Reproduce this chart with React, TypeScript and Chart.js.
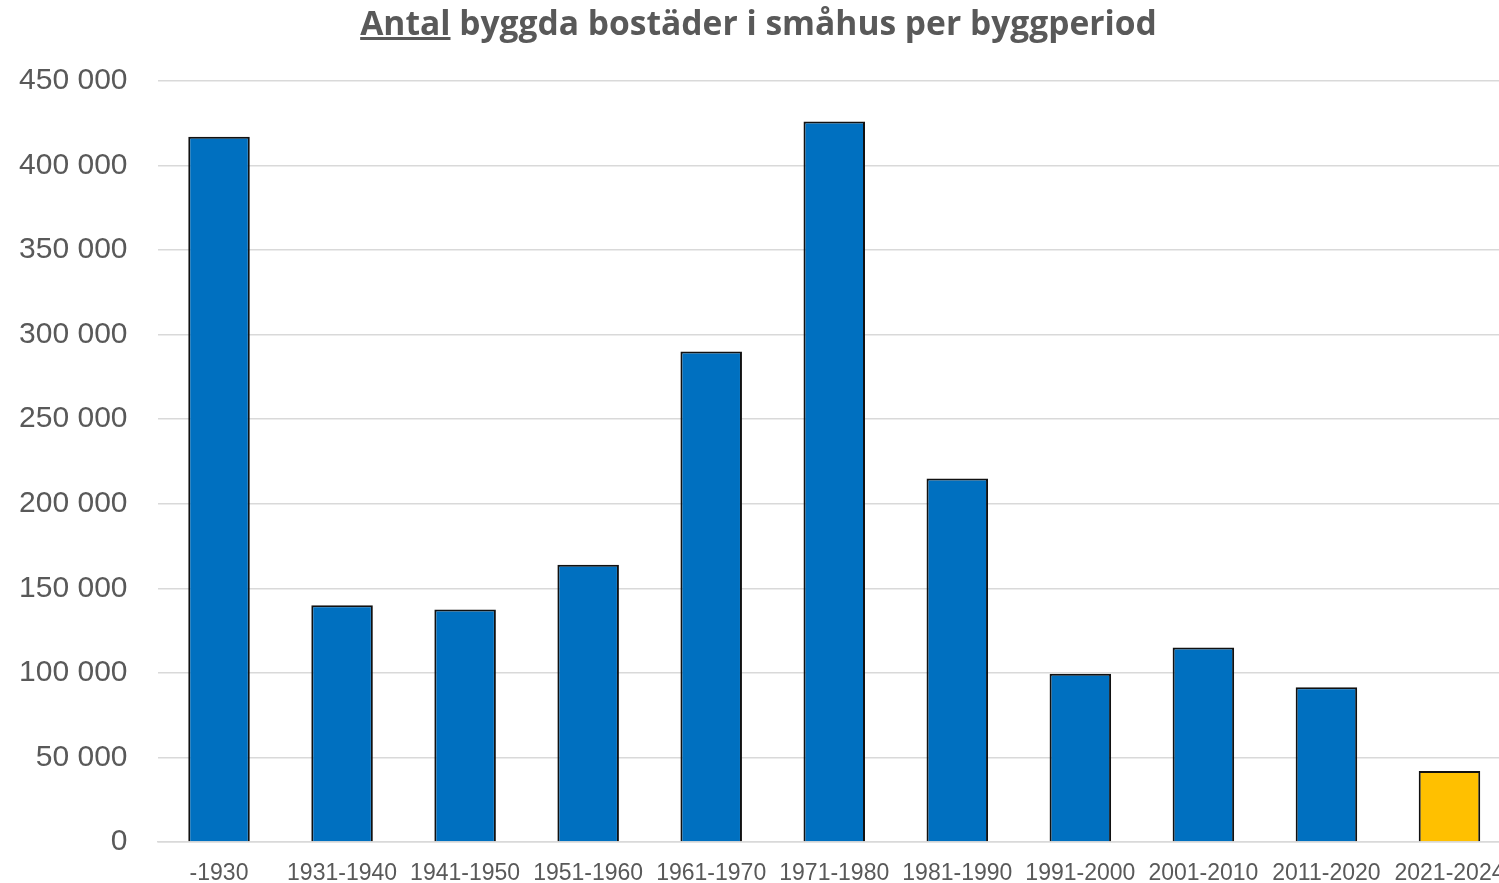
import React, { useEffect, useRef } from "react";
import { Chart, registerables } from "chart.js";

Chart.register(...registerables);

const categories = ["-1930", "1931-1940", "1941-1950", "1951-1960", "1961-1970", "1971-1980", "1981-1990", "1991-2000", "2001-2010", "2011-2020", "2021-2024"];
const values = [417000, 140000, 137500, 164000, 290000, 426000, 215000, 99500, 115000, 91500, 42000];
const barColors = ["#0070C0", "#0070C0", "#0070C0", "#0070C0", "#0070C0", "#0070C0", "#0070C0", "#0070C0", "#0070C0", "#0070C0", "#FFC000"];
const yMax = 450000;
const yStep = 50000;

function fmt(v: number): string {
  return String(Math.round(v)).replace(/\B(?=(\d{3})+(?!\d))/g, " ");
}

function noPad(s: any) {
  s.paddingLeft = 0;
  s.paddingRight = 0;
  s.paddingTop = 0;
  s.paddingBottom = 0;
}

export default function App() {
  const ref = useRef<HTMLCanvasElement | null>(null);
  useEffect(() => {
    document.body.style.margin = "0";
    document.body.style.overflow = "hidden";
    const ctx = ref.current!.getContext("2d")!;
    const chart = new Chart(ctx, {
      type: "bar",
      data: {
        labels: categories,
        datasets: [
          {
            data: values,
            backgroundColor: barColors,
            borderColor: "#111111",
            borderWidth: 2,
            categoryPercentage: 1,
            barPercentage: 0.5,
          },
        ],
      },
      options: {
        animation: false,
        responsive: false,
        layout: { padding: { top: 81, right: 0, left: 0, bottom: 0 } },
        plugins: { legend: { display: false }, tooltip: { enabled: false }, title: { display: false } },
        scales: {
          x: {
            grid: { display: false, drawTicks: false },
            border: { display: true, color: "#d9d9d9", width: 1.5 },
            ticks: { color: "#595959", font: { family: "Liberation Sans", size: 23 }, padding: 18, maxRotation: 0, autoSkip: false },
            afterFit: (s: any) => { s.height = 41; noPad(s); },
          },
          y: {
            min: 0,
            max: yMax,
            grid: { color: "#d9d9d9", lineWidth: 1.5, drawTicks: false },
            border: { display: false },
            ticks: { stepSize: yStep, color: "#595959", font: { family: "Liberation Sans", size: 30 }, padding: 30, callback: (v: any) => fmt(Number(v)) },
            afterFit: (s: any) => { s.width = 157.5; noPad(s); },
          },
        },
      },
    });
    return () => chart.destroy();
  }, []);
  return (
    <div style={{ position: "relative", width: 1499, height: 883, overflow: "hidden" }}>
      <canvas ref={ref} width={1511} height={883} style={{ position: "absolute", left: 0, top: 0 }} />
      <div
        style={{
          position: "absolute",
          left: 0,
          width: 1517,
          top: 0,
          textAlign: "center",
          fontFamily: "'Open Sans'",
          fontWeight: "bold",
          fontSize: 33.6,
          color: "#595959",
          lineHeight: "44px",
          whiteSpace: "nowrap",
        }}
      >
        <span style={{ textDecoration: "underline" }}>Antal</span> byggda bostäder i småhus per byggperiod
      </div>
    </div>
  );
}
